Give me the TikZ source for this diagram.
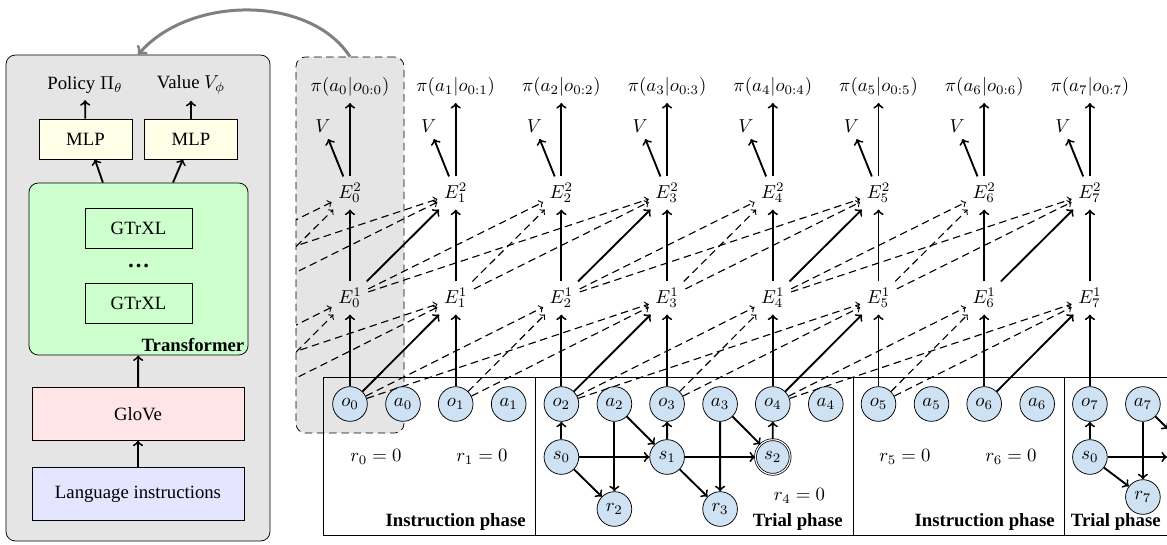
\documentclass[tikz,border=0pt]{standalone}
\usepackage{amsmath,amssymb}
\usepackage{fontspec}
\setmainfont{Liberation Serif}
\usepackage{tikz}
\usepackage{xcolor}
\definecolor{stblue}{RGB}{207,226,243}

\begin{document}
\begin{tikzpicture}[x=0.018755cm,y=-0.018755cm,
  st/.style={circle,draw,fill=stblue,minimum size=18.5pt,inner sep=0pt},
  blk/.style={draw,minimum width=49.6pt,minimum height=21.3pt,inner sep=0pt},
  arr/.style={->,line width=1pt},
  mem/.style={->,semithick,dash pattern=on 4pt off 2.5pt}]
  \useasboundingbox (0,0) rectangle (1167,544); \clip (0,0) rectangle (1167,544);
  \node[draw,rounded corners=5pt,fill=gray!20,minimum width=140.9pt,minimum height=259.3pt] (net) at (138,298) {};
  \node[draw,rounded corners=5pt,fill=green!20,minimum width=116.9pt,minimum height=91.8pt] (tf) at (138.5,269) {};
  \node[blk,fill=yellow!10] (mlpP) at (85.5,139) {MLP}; \node[blk,fill=yellow!10] (mlpV) at (191,139) {MLP};
  \node (pol) at (85,85) {Policy $\Pi_\theta$}; \node (val) at (191,85) {Value $V_\phi$};
  \node[blk,minimum width=57pt] (g1) at (138.5,228.5) {GTrXL}; \node (dots) at (138.5,266) {\bfseries\large\dots};
  \node[blk,minimum width=57pt] (g2) at (138.5,303) {GTrXL};
  \node[font=\bfseries,anchor=south east,inner sep=2pt] (tfl) at (tf.south east) {Transformer};
  \node[blk,fill=red!10,minimum width=113pt,minimum height=28pt] (glove) at (138,414) {GloVe};
  \node[blk,fill=blue!10,minimum width=113pt,minimum height=28pt] (lang) at (138,494) {Language instructions};
  \draw[arr] (mlpP) -- (pol); \draw[arr] (mlpV) -- (val);
  \draw[arr] ([xshift=-19pt]tf.north) -- ([xshift=5pt]mlpP.south); \draw[arr] ([xshift=18.4pt]tf.north) -- ([xshift=-4.3pt]mlpV.south);
  \draw[arr] (glove) -- (tf); \draw[arr] (lang) -- (glove);
  \node[draw,dash pattern=on 4pt off 2.5pt,rounded corners=5pt,fill=gray!20,minimum width=57.6pt,minimum height=200.6pt] (focus) at (350,245) {};
  \draw[->,line width=1.6pt,gray] (focus.north) .. controls (310,-5) and (190,-5) .. (net.north);
  \draw (323,377) rectangle (1190,535); \draw (535,377) -- (535,535); \draw (853,377) -- (853,535); \draw (1064,377) -- (1064,535);
  \foreach \t in {0,...,7}{
    \pgfmathsetmacro\xo{350+105.7*\t}
    \node[st] (o\t) at (\xo,404) {$o_{\t}$}; \node[st] (a\t) at (\xo+53,404) {$a_{\t}$};
    \node (ea\t) at (\xo,298) {$E^1_{\t}$}; \node (eb\t) at (\xo,193) {$E^2_{\t}$};
    \node (p\t) at (\xo,87) {$\pi(a_{\t}|o_{0:\t})$}; \node (v\t) at (\xo-27,126) {$V$};
    \draw[arr] (o\t) -- (ea\t); \draw[arr] (ea\t) -- (eb\t); \draw[arr] (eb\t) -- (p\t); \draw[arr] (eb\t) -- (v\t);
  }
  \foreach \t in {0,2,4,6}{
    \pgfmathtruncatemacro\n{\t+1}
    \draw[arr] (o\t) -- (ea\n); \draw[arr] (ea\t) -- (eb\n);
  }
  \foreach \t/\u in {2/0,3/0,4/2,5/2,6/4,7/4}{
    \pgfmathtruncatemacro\w{\u+1}
    \draw[mem] (o\u) -- (ea\t); \draw[mem] (o\w) -- (ea\t); \draw[mem] (ea\u) -- (eb\t); \draw[mem] (ea\w) -- (eb\t);
  }
  \coordinate (om2) at (138.6,404); \coordinate (om1) at (244.3,404); \coordinate (eam2) at (138.6,298); \coordinate (eam1) at (244.3,298);
  \begin{scope}
    \clip (296,0) rectangle (1167,544);
    \foreach \t in {0,1}{
      \draw[mem] (om2) -- (ea\t); \draw[mem] (om1) -- (ea\t); \draw[mem] (eam2) -- (eb\t); \draw[mem] (eam1) -- (eb\t);
    }
  \end{scope}
  \node[st] (s0) at (561.4,457) {$s_0$}; \node[st] (s1) at (667.1,457) {$s_1$}; \node[st,double] (s2) at (772.8,457) {$s_2$};
  \node[st] (r2) at (614.4,509) {$r_2$}; \node[st] (r3) at (720.1,509) {$r_3$};
  \node[st] (u0) at (1089.9,457) {$s_0$}; \node[st] (r7) at (1142.9,497) {$r_7$};
  \coordinate (uout) at (1167,457); \coordinate (aout) at (1168,429);
  \draw[arr] (s0) -- (o2); \draw[arr] (s0) -- (s1); \draw[arr] (s0) -- (r2); \draw[arr] (a2) -- (r2); \draw[arr] (a2) -- (s1);
  \draw[arr] (s1) -- (o3); \draw[arr] (s1) -- (s2); \draw[arr] (s1) -- (r3); \draw[arr] (a3) -- (r3); \draw[arr] (a3) -- (s2); \draw[arr] (s2) -- (o4);
  \draw[arr] (u0) -- (o7); \draw[arr] (u0) -- (r7); \draw[arr] (a7) -- (r7); \draw[arr] (u0) -- (uout); \draw[arr] (a7) -- (aout);
  \node (rw0) at (376,457) {$r_0=0$}; \node (rw1) at (482,457) {$r_1=0$}; \node (rw4) at (799.4,496) {$r_4=0$};
  \node (rw5) at (905,457) {$r_5=0$}; \node (rw6) at (1011,457) {$r_6=0$};
  \node[font=\bfseries,anchor=east,inner sep=0pt] (ph1) at (526,522) {Instruction phase}; \node[font=\bfseries,anchor=east,inner sep=0pt] (ph2) at (843,522) {Trial phase};
  \node[font=\bfseries,anchor=east,inner sep=0pt] (ph3) at (1055,522) {Instruction phase}; \node[font=\bfseries,anchor=east,inner sep=0pt] (ph4) at (1161,522) {Trial phase};
\end{tikzpicture}
\end{document}
